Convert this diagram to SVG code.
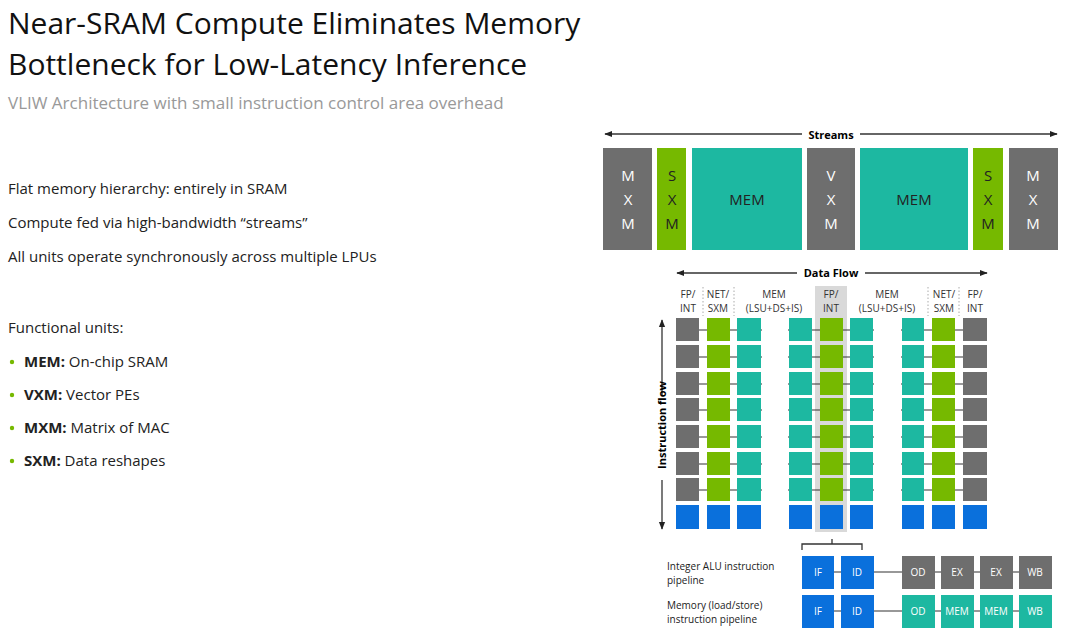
<svg xmlns="http://www.w3.org/2000/svg" width="1080" height="641" viewBox="0 0 1080 641">
<defs>
<style>
text{font-family:"Open Sans","Noto Sans",sans-serif;}
.g{fill:#6e6e6e}.gr{fill:#76b900}.t{fill:#1db8a1}.b{fill:#0a70dc}
.w{fill:#fff;font-size:15px;text-anchor:middle}
.ws{fill:#fff;font-size:10px;text-anchor:middle}
.h{font-size:10px;fill:#333;text-anchor:middle}
.ln{stroke:#333;stroke-width:1.3;fill:none}
.dot{stroke:#aaa;stroke-width:1;stroke-dasharray:1.5 2}
</style>
<marker id="a" viewBox="0 0 10 10" refX="9" refY="5" markerWidth="6" markerHeight="6" orient="auto-start-reverse"><path d="M0,1 L10,5 L0,9 z" fill="#222"/></marker>
</defs>
<rect width="1080" height="641" fill="#fff"/>
<g id="title">
<text x="8" y="34" font-size="30" fill="#111">Near-SRAM Compute Eliminates Memory</text>
<text x="8" y="75" font-size="30" fill="#111">Bottleneck for Low-Latency Inference</text>
<text x="8" y="109" font-size="17" fill="#999">VLIW Architecture with small instruction control area overhead</text>
</g>
<g id="bullets" font-size="15" fill="#222">
<text x="8" y="194">Flat memory hierarchy: entirely in SRAM</text>
<text x="8" y="228">Compute fed via high-bandwidth “streams”</text>
<text x="8" y="262">All units operate synchronously across multiple LPUs</text>
<text x="8" y="333">Functional units:</text>
<g fill="#76b900"><circle cx="12" cy="362" r="2.2"/><circle cx="12" cy="395" r="2.2"/><circle cx="12" cy="428" r="2.2"/><circle cx="12" cy="461" r="2.2"/></g>
<text x="24" y="367"><tspan font-weight="bold">MEM:</tspan> On-chip SRAM</text>
<text x="24" y="400"><tspan font-weight="bold">VXM:</tspan> Vector PEs</text>
<text x="24" y="433"><tspan font-weight="bold">MXM:</tspan> Matrix of MAC</text>
<text x="24" y="466"><tspan font-weight="bold">SXM:</tspan> Data reshapes</text>
</g>
<g id="connectors">
<line x1="605" y1="134" x2="802" y2="134" class="ln" marker-start="url(#a)"/>
<line x1="860" y1="134" x2="1057" y2="134" class="ln" marker-end="url(#a)"/>
<line x1="677" y1="273" x2="797" y2="273" class="ln" marker-start="url(#a)"/>
<line x1="865" y1="273" x2="987" y2="273" class="ln" marker-end="url(#a)"/>
<line x1="662" y1="320" x2="662" y2="395" class="ln" marker-start="url(#a)"/>
<line x1="662" y1="480" x2="662" y2="529" class="ln" marker-end="url(#a)"/>
<path d="M802,550 V544 H862 V550 M832,544 V539" class="ln"/>
</g>
<g id="streams">
<text x="831" y="139" font-size="11" font-weight="bold" text-anchor="middle">Streams</text>
<rect x="603" y="148" width="49" height="102" class="g"/>
<text class="w"><tspan x="628" y="181">M</tspan><tspan x="628" y="205">X</tspan><tspan x="628" y="229">M</tspan></text>
<rect x="657" y="148" width="29" height="102" class="gr"/>
<text class="w" fill="#222" style="fill:#222"><tspan x="672" y="181">S</tspan><tspan x="672" y="205">X</tspan><tspan x="672" y="229">M</tspan></text>
<rect x="692" y="148" width="110" height="102" class="t"/>
<text class="w" style="fill:#222" x="747" y="205">MEM</text>
<rect x="807" y="148" width="48" height="102" class="g"/>
<text class="w"><tspan x="831" y="181">V</tspan><tspan x="831" y="205">X</tspan><tspan x="831" y="229">M</tspan></text>
<rect x="860" y="148" width="108" height="102" class="t"/>
<text class="w" style="fill:#222" x="914" y="205">MEM</text>
<rect x="973" y="148" width="30" height="102" class="gr"/>
<text class="w" style="fill:#222"><tspan x="988" y="181">S</tspan><tspan x="988" y="205">X</tspan><tspan x="988" y="229">M</tspan></text>
<rect x="1009" y="148" width="49" height="102" class="g"/>
<text class="w"><tspan x="1033" y="181">M</tspan><tspan x="1033" y="205">X</tspan><tspan x="1033" y="229">M</tspan></text>
</g>
<g id="grid">
<rect x="815" y="286" width="32" height="246" fill="#d9d9d9"/>
<text x="831" y="277" font-size="11" font-weight="bold" text-anchor="middle">Data Flow</text>
<text x="662" y="425" font-size="11" font-weight="bold" text-anchor="middle" transform="rotate(-90 662 425)" dy="4">Instruction flow</text>
<g class="h">
<text x="688" y="298">FP/</text><text x="688" y="312">INT</text>
<text x="718" y="298">NET/</text><text x="718" y="312">SXM</text>
<text x="774" y="298">MEM</text><text x="774" y="312">(LSU+DS+IS)</text>
<text x="831" y="298">FP/</text><text x="831" y="312">INT</text>
<text x="887" y="298">MEM</text><text x="887" y="312">(LSU+DS+IS)</text>
<text x="944" y="298">NET/</text><text x="944" y="312">SXM</text>
<text x="975" y="298">FP/</text><text x="975" y="312">INT</text>
</g>
<g class="dot">
<line x1="703" y1="287" x2="703" y2="316"/><line x1="734" y1="287" x2="734" y2="316"/>
<line x1="928" y1="287" x2="928" y2="316"/><line x1="959" y1="287" x2="959" y2="316"/>
</g>
<g stroke="#333" stroke-width="1.2">
<line x1="676" y1="330" x2="987" y2="330"/><line x1="676" y1="357" x2="987" y2="357"/>
<line x1="676" y1="384" x2="987" y2="384"/><line x1="676" y1="410" x2="987" y2="410"/>
<line x1="676" y1="437" x2="987" y2="437"/><line x1="676" y1="464" x2="987" y2="464"/>
<line x1="676" y1="490" x2="987" y2="490"/>
</g>
<rect x="762" y="318" width="26" height="185" fill="#fff"/>
<rect x="874" y="318" width="27" height="185" fill="#fff"/>
<g id="cells">
<g class="g"><rect x="676" y="318" width="23" height="23"/><rect x="676" y="345" width="23" height="23"/><rect x="676" y="372" width="23" height="23"/><rect x="676" y="398" width="23" height="23"/><rect x="676" y="425" width="23" height="23"/><rect x="676" y="452" width="23" height="23"/><rect x="676" y="478" width="23" height="23"/>
<rect x="963" y="318" width="24" height="23"/><rect x="963" y="345" width="24" height="23"/><rect x="963" y="372" width="24" height="23"/><rect x="963" y="398" width="24" height="23"/><rect x="963" y="425" width="24" height="23"/><rect x="963" y="452" width="24" height="23"/><rect x="963" y="478" width="24" height="23"/></g>
<g class="gr"><rect x="707" y="318" width="23" height="23"/><rect x="707" y="345" width="23" height="23"/><rect x="707" y="372" width="23" height="23"/><rect x="707" y="398" width="23" height="23"/><rect x="707" y="425" width="23" height="23"/><rect x="707" y="452" width="23" height="23"/><rect x="707" y="478" width="23" height="23"/>
<rect x="820" y="318" width="23" height="23"/><rect x="820" y="345" width="23" height="23"/><rect x="820" y="372" width="23" height="23"/><rect x="820" y="398" width="23" height="23"/><rect x="820" y="425" width="23" height="23"/><rect x="820" y="452" width="23" height="23"/><rect x="820" y="478" width="23" height="23"/>
<rect x="932" y="318" width="23" height="23"/><rect x="932" y="345" width="23" height="23"/><rect x="932" y="372" width="23" height="23"/><rect x="932" y="398" width="23" height="23"/><rect x="932" y="425" width="23" height="23"/><rect x="932" y="452" width="23" height="23"/><rect x="932" y="478" width="23" height="23"/></g>
<g class="t">
<rect x="737" y="318" width="24" height="23"/><rect x="737" y="345" width="24" height="23"/><rect x="737" y="372" width="24" height="23"/><rect x="737" y="398" width="24" height="23"/><rect x="737" y="425" width="24" height="23"/><rect x="737" y="452" width="24" height="23"/><rect x="737" y="478" width="24" height="23"/>
<rect x="789" y="318" width="23" height="23"/><rect x="789" y="345" width="23" height="23"/><rect x="789" y="372" width="23" height="23"/><rect x="789" y="398" width="23" height="23"/><rect x="789" y="425" width="23" height="23"/><rect x="789" y="452" width="23" height="23"/><rect x="789" y="478" width="23" height="23"/>
<rect x="850" y="318" width="23" height="23"/><rect x="850" y="345" width="23" height="23"/><rect x="850" y="372" width="23" height="23"/><rect x="850" y="398" width="23" height="23"/><rect x="850" y="425" width="23" height="23"/><rect x="850" y="452" width="23" height="23"/><rect x="850" y="478" width="23" height="23"/>
<rect x="902" y="318" width="22" height="23"/><rect x="902" y="345" width="22" height="23"/><rect x="902" y="372" width="22" height="23"/><rect x="902" y="398" width="22" height="23"/><rect x="902" y="425" width="22" height="23"/><rect x="902" y="452" width="22" height="23"/><rect x="902" y="478" width="22" height="23"/></g>
<g class="b"><rect x="676" y="505" width="23" height="24"/><rect x="707" y="505" width="23" height="24"/><rect x="737" y="505" width="24" height="24"/><rect x="789" y="505" width="23" height="24"/><rect x="820" y="505" width="23" height="24"/><rect x="850" y="505" width="23" height="24"/><rect x="902" y="505" width="22" height="24"/><rect x="932" y="505" width="23" height="24"/><rect x="963" y="505" width="24" height="24"/></g>
</g>
</g>
<g id="pipelines">
<text x="667" y="570" font-size="10" fill="#222">Integer ALU instruction</text>
<text x="667" y="584" font-size="10" fill="#222">pipeline</text>
<text x="667" y="609" font-size="10" fill="#222">Memory (load/store)</text>
<text x="667" y="623" font-size="10" fill="#222">instruction pipeline</text>
<line x1="820" y1="572" x2="1040" y2="572" stroke="#333" stroke-width="1.2"/>
<line x1="820" y1="611" x2="1040" y2="611" stroke="#333" stroke-width="1.2"/>
<rect x="802" y="556" width="32" height="33" class="b"/><text class="ws" x="818" y="576">IF</text>
<rect x="841" y="556" width="33" height="33" class="b"/><text class="ws" x="857" y="576">ID</text>
<rect x="902" y="556" width="33" height="33" class="g"/><text class="ws" x="918" y="576">OD</text>
<rect x="941" y="556" width="33" height="33" class="g"/><text class="ws" x="957" y="576">EX</text>
<rect x="980" y="556" width="33" height="33" class="g"/><text class="ws" x="996" y="576">EX</text>
<rect x="1019" y="556" width="33" height="33" class="g"/><text class="ws" x="1035" y="576">WB</text>
<rect x="802" y="595" width="32" height="33" class="b"/><text class="ws" x="818" y="615">IF</text>
<rect x="841" y="595" width="33" height="33" class="b"/><text class="ws" x="857" y="615">ID</text>
<rect x="902" y="595" width="33" height="33" class="t"/><text class="ws" x="918" y="615">OD</text>
<rect x="941" y="595" width="33" height="33" class="t"/><text class="ws" x="957" y="615">MEM</text>
<rect x="980" y="595" width="33" height="33" class="t"/><text class="ws" x="996" y="615">MEM</text>
<rect x="1019" y="595" width="33" height="33" class="t"/><text class="ws" x="1035" y="615">WB</text>
</g>
</svg>
